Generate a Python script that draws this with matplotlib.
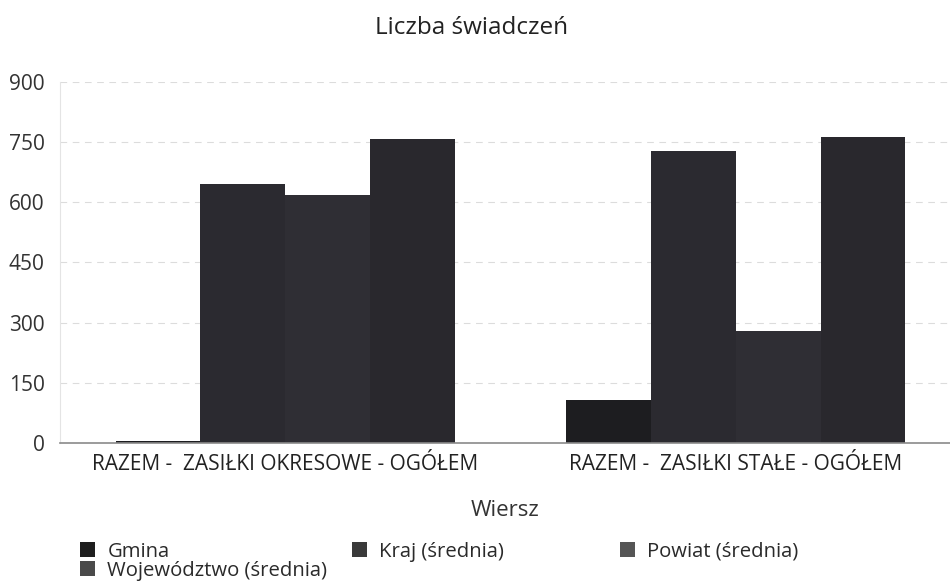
import numpy as np
import matplotlib
matplotlib.use('Agg')
import matplotlib.pyplot as plt
from matplotlib.patches import Patch

plt.rcParams['font.family'] = ['Open Sans', 'DejaVu Sans']

categories = ['RAZEM -  ZASIŁKI OKRESOWE - OGÓŁEM', 'RAZEM -  ZASIŁKI STAŁE - OGÓŁEM']
series_names = ['Gmina', 'Kraj (średnia)', 'Powiat (średnia)', 'Województwo (średnia)']
gmina = [4, 107]
kraj = [645, 727]
powiat = [617, 280]
wojewodztwo = [757, 762]
yticks = [0, 150, 300, 450, 600, 750, 900]

values = [gmina, kraj, powiat, wojewodztwo]
colors = ['#1d1d20', '#2b2a30', '#2f2e34', '#29282d']
legend_colors = ['#1e1e1e', '#3a3a3a', '#555555', '#4a4a4a']

fig = plt.figure(figsize=(9.5, 5.88), dpi=100)
ax = fig.add_axes([0.063, 0.2466, 0.937, 0.614])

x = np.arange(len(categories))
w = 0.188
for i, vals in enumerate(values):
    ax.bar(x + (i - 1.5) * w, vals, width=w, color=colors[i], edgecolor='none', zorder=2)

ax.set_xlim(-0.5, 1.475)
ax.set_ylim(0, 900)
ax.set_yticks(yticks)
ax.set_xticks(x)
ax.set_xticklabels(categories, fontsize=15, color='#222222')
ax.tick_params(axis='y', length=0, pad=11, labelsize=15, labelcolor='#333333')
ax.tick_params(axis='x', length=0, pad=8)
ax.grid(axis='y', color='#dcdcdc', linestyle=(0, (6, 5)), linewidth=0.8, zorder=0)
for s in ['top', 'right']:
    ax.spines[s].set_visible(False)
ax.spines['left'].set_color('#e4e4e4')
ax.spines['bottom'].set_color('#8a8a8a')
ax.spines['bottom'].set_linewidth(1.2)
ax.set_xlabel('Wiersz', fontsize=16, color='#333333', labelpad=18)

fig.text(0.496, 0.952, 'Liczba świadczeń', ha='center', va='center', fontsize=17.5, color='#222222')

handles = [Patch(facecolor=legend_colors[i], edgecolor='none') for i in range(4)]
common = dict(frameon=False, fontsize=14.6, handlelength=0.75, handleheight=0.75,
              handletextpad=0.6, labelspacing=-0.05, borderaxespad=0, borderpad=0,
              labelcolor='#2a2a2a')
leg1 = fig.legend([handles[0], handles[3]], [series_names[0], series_names[3]],
                  loc='upper left', bbox_to_anchor=(0.0842, 0.079), **common)
leg2 = fig.legend([handles[1]], [series_names[1]],
                  loc='upper left', bbox_to_anchor=(0.3705, 0.079), **common)
leg3 = fig.legend([handles[2]], [series_names[2]],
                  loc='upper left', bbox_to_anchor=(0.6526, 0.079), **common)

fig.savefig('out.png', dpi=100, facecolor='white')
